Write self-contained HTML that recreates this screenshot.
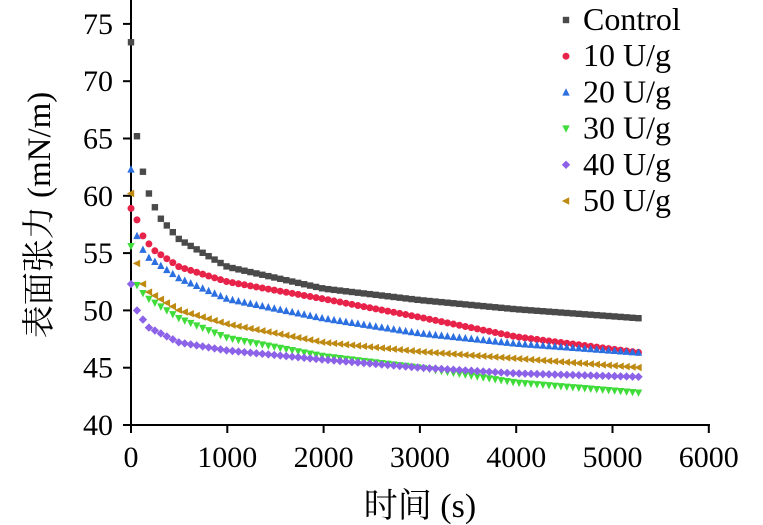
<!DOCTYPE html>
<html><head><meta charset="utf-8"><style>
html,body{margin:0;padding:0;background:#fff;}
svg{display:block;font-family:"Liberation Serif","Noto Serif CJK SC",serif;}
</style></head><body>
<svg id="c" width="763" height="525" viewBox="0 0 763 525" xmlns="http://www.w3.org/2000/svg">
<g stroke="#000" stroke-width="2" fill="none">
<line x1="131" y1="0" x2="131" y2="426"/>
<line x1="130" y1="425" x2="710" y2="425"/>
</g>
<g id="ticks" stroke="#000" stroke-width="2"></g>
<g id="labels" font-size="30" fill="#000"></g>
<g id="pts"></g>
<text x="50" y="215" font-size="33" text-anchor="middle" transform="rotate(-90 50 215)">表面张力 (mN/m)</text>
<text x="420" y="517" font-size="34" text-anchor="middle">时间 (s)</text>
<g id="leg" font-size="32"></g>
</svg>
<script>
const NS="http://www.w3.org/2000/svg";
function el(t,a,p,txt){const e=document.createElementNS(NS,t);for(const k in a)e.setAttribute(k,a[k]);if(txt!==undefined)e.textContent=txt;p.appendChild(e);return e;}
const X=t=>131+t*0.0963, Y=v=>425-(v-40)*11.46;
const tk=document.getElementById('ticks'),lb=document.getElementById('labels');
for(let v=40;v<=75;v+=5){el('line',{x1:123,y1:Y(v),x2:131,y2:Y(v)},tk);el('text',{x:113,y:Y(v)+10,'text-anchor':'end'},lb,v);}
for(let t=0;t<=6000;t+=1000){el('line',{x1:X(t),y1:425,x2:X(t),y2:433},tk);el('text',{x:X(t),y:467,'text-anchor':'middle'},lb,t);}
const S=[
{c:'#4a4a4a',m:'sq',a:[[0,73.4],[62,65.2],[124,62.1],[186,60.2],[248,59],[310,58],[500,56.2],[1000,53.8],[2000,51.9],[3000,50.9],[4000,50.1],[5300,49.3]],n:'Control'},
{c:'#e8234a',m:'ci',a:[[0,58.9],[62,57.9],[124,56.5],[186,55.8],[248,55.2],[500,53.8],[1000,52.5],[2000,51],[3000,49.4],[4000,47.7],[5300,46.3]],n:'10 U/g'},
{c:'#2b6fe0',m:'up',a:[[0,62.3],[62,56.5],[124,55.3],[186,54.6],[500,52.8],[1000,51],[2000,49.3],[3000,48],[4000,47.1],[5300,46.3]],n:'20 U/g'},
{c:'#3fdc3a',m:'dn',a:[[0,55.6],[62,52.2],[124,51.5],[186,51],[500,49.3],[1000,47.6],[2000,46],[3000,45],[4000,43.7],[5300,42.8]],n:'30 U/g'},
{c:'#8c62e8',m:'di',a:[[0,52.3],[62,50],[124,49.2],[186,48.5],[500,47.2],[1000,46.5],[2000,45.7],[3000,45],[4000,44.5],[5300,44.2]],n:'40 U/g'},
{c:'#bf8a12',m:'lt',a:[[0,60.2],[62,54.1],[124,52.3],[186,51.6],[500,50],[1000,48.8],[2000,47.2],[3000,46.4],[4000,45.8],[5300,45]],n:'50 U/g'}];
function interp(a,t){for(let i=1;i<a.length;i++){if(t<=a[i][0]){const[t0,v0]=a[i-1],[t1,v1]=a[i];return v0+(v1-v0)*(t-t0)/(t1-t0);}}return a[a.length-1][1];}
function mk(m,x,y,c,p){const r=3.2;
 if(m=='sq')el('rect',{x:x-r,y:y-r,width:2*r,height:2*r,fill:c},p);
 else if(m=='ci')el('circle',{cx:x,cy:y,r:r+0.3,fill:c},p);
 else if(m=='up')el('polygon',{points:`${x},${y-r-1} ${x-r-0.5},${y+r} ${x+r+0.5},${y+r}`,fill:c},p);
 else if(m=='dn')el('polygon',{points:`${x},${y+r+1} ${x-r-0.5},${y-r} ${x+r+0.5},${y-r}`,fill:c},p);
 else if(m=='di')el('polygon',{points:`${x},${y-r-1} ${x+r+1},${y} ${x},${y+r+1} ${x-r-1},${y}`,fill:c},p);
 else if(m=='lt')el('polygon',{points:`${x-r-1},${y} ${x+r},${y-r-0.5} ${x+r},${y+r+0.5}`,fill:c},p);}
const P=document.getElementById('pts'),L=document.getElementById('leg');
S.forEach((s,i)=>{for(let t=0;t<=5300;t+=62)mk(s.m,X(t),Y(interp(s.a,t)),s.c,P);
 const y=20+i*36.2;mk(s.m,566,y,s.c,L);el('text',{x:583,y:y+10,fill:'#000'},L,s.n);});
</script>
</body></html>
